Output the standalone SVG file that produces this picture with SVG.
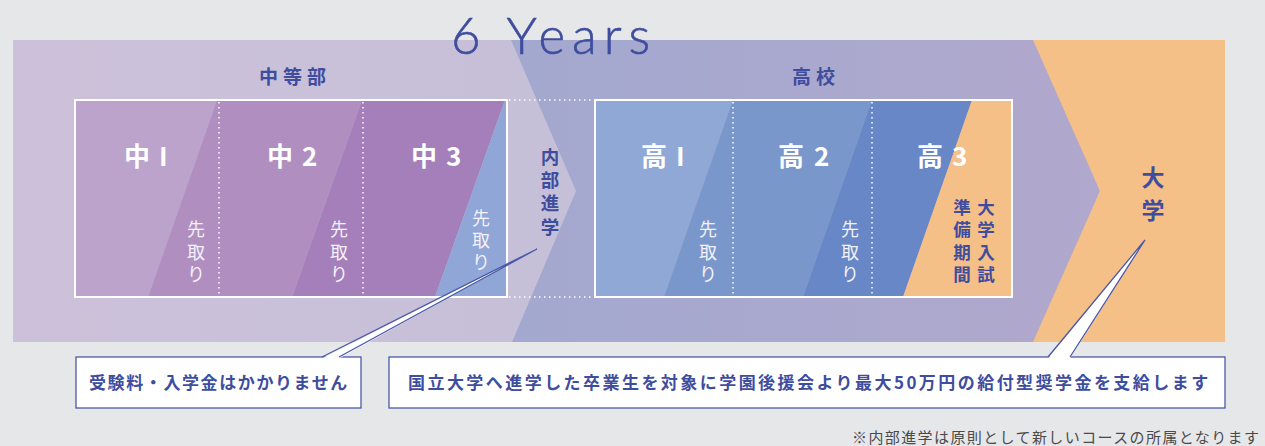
<svg xmlns="http://www.w3.org/2000/svg" width="1265" height="446" viewBox="0 0 1265 446">
<defs>
<linearGradient id="gLeft" x1="0" y1="0" x2="1" y2="0">
<stop offset="0" stop-color="#cdc1da"/>
<stop offset="1" stop-color="#c6bfd8"/>
</linearGradient>
<linearGradient id="gHigh" x1="0" y1="0" x2="1" y2="0">
<stop offset="0" stop-color="#a3a8d0"/>
<stop offset="1" stop-color="#b1a8cc"/>
</linearGradient>
<style>
.jp{font-family:"Noto Sans CJK JP","Noto Sans",sans-serif;}
.ttl{font-size:19px;font-weight:700;fill:#3f4d9e;letter-spacing:5px;}
.cell{font-size:26px;font-weight:700;fill:#ffffff;}
.saki{font-size:18px;font-weight:400;fill:#f3f1fa;text-anchor:middle;}
.vb{font-size:18.5px;font-weight:700;fill:#3f4d9e;text-anchor:middle;}
.vs{font-size:17.5px;font-weight:700;fill:#3f4d9e;text-anchor:middle;}
.note{font-size:17px;font-weight:700;fill:#3f4d9e;}
.dot{stroke:#ffffff;stroke-width:1.5;stroke-dasharray:1.5 3.5;fill:none;}
.box{fill:none;stroke:#ffffff;stroke-width:2;}
.cbox{fill:#ffffff;stroke:#4a59a8;stroke-width:1.3;}
.wedge{fill:#ffffff;stroke:none;}
.wline{fill:none;stroke:#4a59a8;stroke-width:1.3;}
</style>
</defs>
<rect x="0" y="0" width="1265" height="446" fill="#e6e7e9"/>

<g id="bands">
<polygon points="505,40 1040,40 1100,191 1040,342 505,342" fill="url(#gHigh)"/>
<polygon points="13,40 511,40 576,191 512,342 13,342" fill="url(#gLeft)"/>
<polygon points="1033,40 1225,40 1225,342 1033,342 1100,191" fill="#f5bf88"/>
</g>

<text x="451" y="54" font-family="Lato,'Open Sans',sans-serif" font-weight="300" font-size="51" fill="#3f4d9e" stroke="#3f4d9e" stroke-width="0.6" letter-spacing="7">6 Years</text>

<g id="chutobu-title"><text class="jp ttl" x="295" y="84" text-anchor="middle">中等部</text></g>
<g id="koko-title"><text class="jp ttl" x="816" y="84" text-anchor="middle">高校</text></g>

<g id="chutobu">
<polygon points="75,100 217,100 148,297 75,297" fill="#bca3cb"/>
<polygon points="217,100 362,100 292,297 148,297" fill="#b08fc0"/>
<polygon points="362,100 505,100 435,297 292,297" fill="#a47fba"/>
<polygon points="505,100 507,100 507,297 435,297" fill="#8fa6d6"/>
<line class="dot" x1="219" y1="102" x2="219" y2="295"/>
<line class="dot" x1="363" y1="102" x2="363" y2="295"/>
<rect class="box" x="75" y="100" width="432" height="197"/>
</g>
<g id="chu1"><text class="jp cell" x="124" y="166">中<tspan x="159">I</tspan></text>
<text class="jp saki"><tspan x="196" y="236">先</tspan><tspan x="196" y="259">取</tspan><tspan x="196" y="281">り</tspan></text></g>
<g id="chu2"><text class="jp cell" x="267" y="166">中<tspan x="302">2</tspan></text>
<text class="jp saki"><tspan x="339" y="236">先</tspan><tspan x="339" y="259">取</tspan><tspan x="339" y="281">り</tspan></text></g>
<g id="chu3"><text class="jp cell" x="411" y="166">中<tspan x="446">3</tspan></text>
<text class="jp saki"><tspan x="481" y="225">先</tspan><tspan x="481" y="247">取</tspan><tspan x="481" y="269">り</tspan></text></g>

<g id="naibu">
<line class="dot" x1="509" y1="100" x2="595" y2="100"/>
<line class="dot" x1="509" y1="297" x2="595" y2="297"/>
<text class="jp vb"><tspan x="550" y="164">内</tspan><tspan x="550" y="187">部</tspan><tspan x="550" y="210">進</tspan><tspan x="550" y="234">学</tspan></text>
</g>

<g id="koko">
<polygon points="595,100 733,100 664,297 595,297" fill="#90a8d6"/>
<polygon points="733,100 872,100 803,297 664,297" fill="#7a97cc"/>
<polygon points="872,100 972,100 903,297 803,297" fill="#6787c6"/>
<polygon points="972,100 1012,100 1012,297 903,297" fill="#f5bf88"/>
<line class="dot" x1="733" y1="102" x2="733" y2="295"/>
<line class="dot" x1="872" y1="102" x2="872" y2="295"/>
<rect class="box" x="595" y="100" width="417" height="197"/>
</g>
<g id="ko1"><text class="jp cell" x="641" y="166">高<tspan x="676">I</tspan></text>
<text class="jp saki"><tspan x="708" y="236">先</tspan><tspan x="708" y="259">取</tspan><tspan x="708" y="281">り</tspan></text></g>
<g id="ko2"><text class="jp cell" x="778" y="166">高<tspan x="814">2</tspan></text>
<text class="jp saki"><tspan x="850" y="236">先</tspan><tspan x="850" y="259">取</tspan><tspan x="850" y="281">り</tspan></text></g>
<g id="ko3"><text class="jp cell" x="917" y="166">高<tspan x="952">3</tspan></text>
<text class="jp vs"><tspan x="986" y="214">大</tspan><tspan x="986" y="236">学</tspan><tspan x="986" y="259">入</tspan><tspan x="986" y="281">試</tspan></text>
<text class="jp vs"><tspan x="962" y="214">準</tspan><tspan x="962" y="236">備</tspan><tspan x="962" y="259">期</tspan><tspan x="962" y="281">間</tspan></text></g>

<g id="daigaku">
<text class="jp" font-size="23" font-weight="700" fill="#3f4d9e" text-anchor="middle"><tspan x="1153" y="186">大</tspan><tspan x="1153" y="219">学</tspan></text>
</g>

<g id="callout1">
<rect class="cbox" x="76" y="357" width="285" height="51"/>
<text class="jp note" x="89" y="389" letter-spacing="1.6">受験料・入学金はかかりません</text>
</g>
<g id="callout2">
<rect class="cbox" x="389" y="357" width="836" height="51"/>
<text class="jp note" x="408" y="389" letter-spacing="2.45">国立大学へ進学した卒業生を対象に学園後援会より最大50万円の給付型奨学金を支給します</text>
</g>

<g id="connectors">
<polygon class="wedge" points="322,358.5 339,358.5 537,249"/>
<polyline class="wline" points="322,357 537,249 339,357"/>
<polygon class="wedge" points="1048,358.5 1070,358.5 1145,240"/>
<polyline class="wline" points="1048,357 1145,240 1070,357"/>
</g>

<text class="jp" x="852" y="443" font-size="15" fill="#4a4a4a" letter-spacing="1.4">※内部進学は原則として新しいコースの所属となります</text>
</svg>
